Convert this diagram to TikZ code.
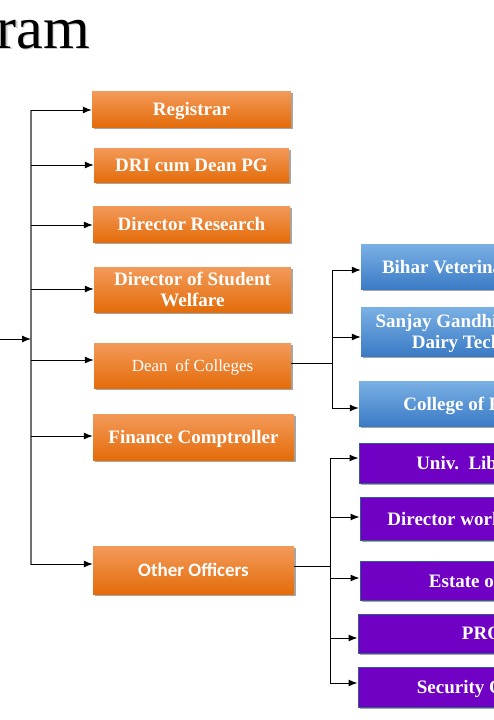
\documentclass[tikz,border=0pt]{standalone}
\usepackage{fontspec}
\setmainfont{Liberation Serif}
\newfontfamily\calfont{Carlito}
\usetikzlibrary{arrows.meta,shadows}
\definecolor{orTop}{HTML}{F39A5A}
\definecolor{orBot}{HTML}{E46C0A}
\definecolor{blTop}{HTML}{7AB0E4}
\definecolor{blBot}{HTML}{3B7BC6}
\definecolor{purp}{HTML}{7000C4}
\definecolor{pBorder}{HTML}{2F5E8C}
\definecolor{trunkgray}{HTML}{707070}
\tikzset{
  shad/.style={drop shadow={shadow xshift=1.5pt,shadow yshift=-2pt,opacity=.35,fill=black}},
  basebox/.style={rectangle, inner sep=0pt, text=white, align=center, shad,
    text depth=0pt},
  obox/.style={basebox, top color=orTop, bottom color=orBot, draw=none,
    font=\bfseries\fontsize{19}{21.5}\selectfont},
  bbox/.style={basebox, top color=blTop, bottom color=blBot, draw=none,
    font=\bfseries\fontsize{19}{21.5}\selectfont},
  pbox/.style={basebox, fill=purp, draw=pBorder, line width=1pt,
    font=\bfseries\fontsize{19}{21.5}\selectfont},
  arr/.style={-{Latex[length=9pt,width=7pt]}, line width=1pt, draw=black},
  ln/.style={line width=1pt, draw=black}
}
\begin{document}
\begin{tikzpicture}[x=1pt,y=-1pt]
\useasboundingbox (0,0) rectangle (494,720);
\clip (0,0) rectangle (494,720);
\fill[white] (0,0) rectangle (494,720);
% title
\node[anchor=base east, text=gray!40, font=\fontsize{60}{60}\selectfont, inner sep=0pt] at (91.5,49.5) {Organogram};
\node[anchor=base east, text=black, font=\fontsize{60}{60}\selectfont, inner sep=0pt] (title) at (90,48) {Organogram};

% left column boxes
\node[obox, minimum width=199pt, minimum height=36pt] (reg) at (191.5,109) {Registrar};
\node[obox, minimum width=195pt, minimum height=34pt] (dri) at (191.5,165) {DRI cum Dean PG};
\node[obox, minimum width=197pt, minimum height=36pt] (dr) at (191.5,224) {Director Research};
\node[obox, minimum width=197pt, minimum height=45pt] (dsw) at (192.5,289.5) {Director of Student\\Welfare};
\node[obox, minimum width=197pt, minimum height=45pt, font=\fontsize{17}{20}\selectfont] (doc) at (192.5,365.5) {Dean\hspace{0.2em} of Colleges};
\node[obox, minimum width=201pt, minimum height=46pt] (fc) at (193.5,437) {Finance Comptroller};
\node[obox, minimum width=201pt, minimum height=48pt, font=\calfont\bfseries\fontsize{19}{22}\selectfont] (oo) at (193.5,570) {Other Officers};

% trunk
\coordinate (ttop) at (31,110);
\coordinate (tbot) at (31,565);
\coordinate (tin) at (31,339);
\coordinate (src) at (0,339);
\draw[line width=1.2pt, draw=trunkgray] (ttop) -- (tbot);
\draw[arr] (src) -- (tin);
\draw[arr] (ttop) -- (reg.west |- ttop);
\coordinate (t2) at (31,165); \draw[arr] (t2) -- (dri.west |- t2);
\coordinate (t3) at (31,225); \draw[arr] (t3) -- (dr.west |- t3);
\coordinate (t4) at (31,289); \draw[arr] (t4) -- (dsw.west |- t4);
\coordinate (t5) at (31,360); \draw[arr] (t5) -- (doc.west |- t5);
\coordinate (t6) at (31,436); \draw[arr] (t6) -- (fc.west |- t6);
\coordinate (t7) at (31,564); \draw[arr] (t7) -- (oo.west |- t7);

% colleges (blue)
\node[bbox, minimum width=245pt, minimum height=45pt] (bvc) at (483.5,266.5) {Bihar Veterinary College};
\node[bbox, minimum width=245pt, minimum height=49pt] (sgi) at (483.5,331.5) {Sanjay Gandhi Institute of\\Dairy Technology};
\node[bbox, minimum width=247pt, minimum height=45pt] (cof) at (482.5,403.5) {College of Fisheries};

\coordinate (b0) at (332,363);
\coordinate (b1) at (332,270);
\coordinate (b2) at (332,337);
\coordinate (b3) at (332,408);
\draw[ln] (doc.east |- b0) -- (b0);
\draw[ln] (b1) -- (b3);
\draw[arr] (b1) -- (bvc.west |- b1);
\draw[arr] (b2) -- (sgi.west |- b2);
\draw[arr] (b3) -- (cof.west |- b3);

% other officers (purple)
\node[pbox, minimum width=247pt, minimum height=40pt] (lib) at (482.5,463) {Univ.\ \ Librarian};
\node[pbox, minimum width=246pt, minimum height=43pt] (dw) at (483,518.5) {Director works \& Plant};
\node[pbox, minimum width=246pt, minimum height=39pt] (eo) at (483,580.5) {Estate officer};
\node[pbox, minimum width=248pt, minimum height=39pt] (pro) at (482,633.5) {PRO};
\node[pbox, minimum width=248pt, minimum height=40pt] (so) at (482,687) {Security Officer};

\coordinate (p0) at (330,566);
\coordinate (p1) at (330,458);
\coordinate (p2) at (330,517);
\coordinate (p3) at (330,578);
\coordinate (p4) at (330,638);
\coordinate (p5) at (330,683);
\draw[ln] (oo.east |- p0) -- (p0);
\draw[ln] (p1) -- (p5);
\draw[arr] (p1) -- (lib.west |- p1);
\draw[arr] (p2) -- (dw.west |- p2);
\draw[arr] (p3) -- (eo.west |- p3);
\draw[arr] (p4) -- (pro.west |- p4);
\draw[arr] (p5) -- (so.west |- p5);
\end{tikzpicture}
\end{document}
